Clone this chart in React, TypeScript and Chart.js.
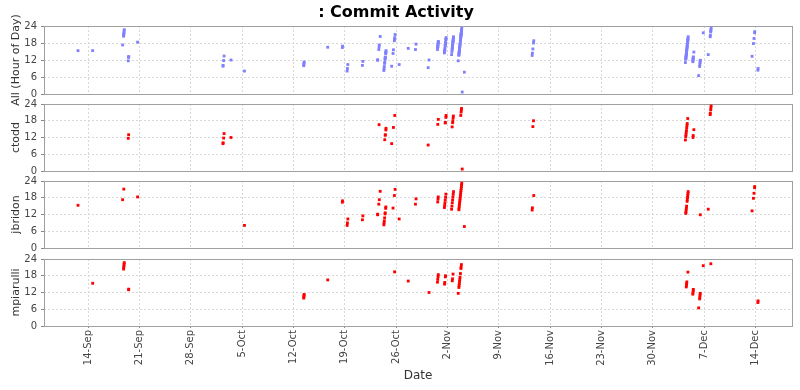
import React, { useEffect, useRef } from "react";
import { Chart, registerables } from "chart.js";
Chart.register(...registerables);

// x axis: days since 14-Sep; each commit is [day, hour of day]
const tickDays = [0, 7, 14, 21, 28, 35, 42, 49, 56, 63, 70, 77, 84, 91];
const tickLabels = ["14-Sep", "21-Sep", "28-Sep", "5-Oct", "12-Oct", "19-Oct", "26-Oct", "2-Nov", "9-Nov", "16-Nov", "23-Nov", "30-Nov", "7-Dec", "14-Dec"];
const hourTicks = [0, 6, 12, 18, 24];
const panelNames = ["All (Hour of Day)", "ctodd", "jbridon", "mpiarulli"];

const ctodd: [number, number][] = [
  [5, 13.0], [5, 11.7],
  [18, 13.4], [18, 11.8], [18, 10.1], [18, 9.8],
  [19, 12.0],
  [39, 16.6],
  [40, 15.3], [40, 14.7], [40, 13.0], [40, 12.8], [40, 11.2],
  [41, 9.8], [41, 15.6], [41, 19.9],
  [46, 9.3],
  [47, 18.5], [47, 16.7],
  [48, 19.9], [48, 19.2], [48, 17.4], [48, 17.2],
  [49, 19.7], [49, 19.0], [49, 18.0], [49, 17.3], [49, 15.8],
  [50, 22.4], [50, 21.9], [50, 21.1], [50, 19.9],
  [51, 0.7],
  [60, 18.0], [60, 15.9],
  [81, 11.1], [81, 12.3], [81, 13.0], [81, 13.8], [81, 14.5], [81, 15.5], [81, 16.3], [81, 17.0], [81, 18.8],
  [82, 14.8], [82, 12.7], [82, 12.0],
  [84, 23.3], [84, 22.6], [84, 21.9], [84, 20.7], [84, 20.2],
];

const jbridon: [number, number][] = [
  [-2, 15.3],
  [4, 17.3], [4, 21.1],
  [6, 18.3],
  [21, 8.1],
  [34, 16.4], [34, 16.9],
  [35, 10.4], [35, 9.0], [35, 8.1],
  [37, 11.5], [37, 10.1],
  [39, 12.1], [39, 11.9], [39, 15.7], [39, 17.3], [39, 20.3],
  [40, 10.8], [40, 9.7], [40, 9.0], [40, 8.3], [40, 14.7], [40, 14.2], [40, 12.6], [40, 12.2],
  [41, 14.3], [41, 18.8], [41, 21.0],
  [42, 10.4],
  [44, 17.6], [44, 15.7],
  [47, 18.3], [47, 17.5], [47, 16.5],
  [48, 19.3], [48, 18.2], [48, 17.2], [48, 16.2], [48, 15.3], [48, 14.5],
  [49, 20.2], [49, 19.2], [49, 18.2], [49, 17.2], [49, 16.2], [49, 15.0], [49, 13.9],
  [50, 23.2], [50, 22.6], [50, 22.0], [50, 21.3], [50, 20.6], [50, 19.9], [50, 19.2], [50, 18.5], [50, 17.8],
  [50, 17.1], [50, 16.4], [50, 15.7], [50, 15.0], [50, 14.3], [50, 13.7],
  [51, 7.7],
  [60, 18.8], [60, 14.4], [60, 13.6],
  [81, 20.2], [81, 19.5], [81, 18.8], [81, 18.1], [81, 17.4], [81, 16.7], [81, 15.0], [81, 14.3], [81, 13.6], [81, 12.9], [81, 12.4],
  [83, 11.9],
  [84, 13.9],
  [90, 13.3], [90, 17.8], [90, 19.6], [90, 21.6], [90, 22.0],
];

const mpiarulli: [number, number][] = [
  [0, 15.3],
  [4, 22.7], [4, 22.1], [4, 21.5], [4, 20.9], [4, 20.4],
  [5, 13.2], [5, 13.0],
  [29, 11.3], [29, 10.9], [29, 10.4], [29, 10.0],
  [32, 16.5],
  [41, 19.4],
  [43, 16.1],
  [46, 12.0],
  [47, 18.4], [47, 17.7], [47, 16.7], [47, 15.7],
  [48, 18.0], [48, 17.6], [48, 15.6], [48, 15.0],
  [49, 18.6], [49, 16.9], [49, 16.2],
  [50, 11.7], [50, 13.8], [50, 14.5], [50, 15.2], [50, 16.0], [50, 16.7], [50, 17.5], [50, 18.8], [50, 22.0], [50, 21.1], [50, 20.6],
  [81, 19.3], [81, 15.8], [81, 15.2], [81, 14.6], [81, 14.0],
  [82, 13.1], [82, 12.6], [82, 11.9], [82, 11.4],
  [83, 11.7], [83, 11.1], [83, 10.4], [83, 9.7], [83, 6.5], [83, 21.6],
  [84, 22.3],
  [91, 9.0], [91, 8.4],
];

const allCommits: [number, number][] = [...ctodd, ...jbridon, ...mpiarulli];
const panelData = [allCommits, ctodd, jbridon, mpiarulli];
const panelColors = ["#8080ff", "#ff0000", "#ff0000", "#ff0000"];

const W = 800;
const H = 390;
const PLOT_LEFT = 44;
const PLOT_RIGHT = 792;
const panelTops = [26, 104, 181, 259];
const panelBottoms = [94, 171, 248, 326];
const FONT = "'DejaVu Sans', sans-serif";

const outline = {
  id: "outline",
  beforeDatasetsDraw(chart: any) {
    const { ctx, chartArea: a } = chart;
    ctx.save();
    ctx.strokeStyle = "#a0a0a0";
    ctx.lineWidth = 1;
    ctx.strokeRect(Math.round(a.left) + 0.5, Math.round(a.top) + 0.5, Math.round(a.right - a.left), Math.round(a.bottom - a.top));
    ctx.restore();
  },
};

function makeConfig(i: number): any {
  const first = i === 0;
  const last = i === 3;
  return {
    type: "scatter",
    data: {
      datasets: [
        {
          data: panelData[i].map(([d, h]) => ({ x: d + h / 24, y: h })),
          pointStyle: "rect",
          pointRadius: 2,
          borderWidth: 0,
          backgroundColor: panelColors[i],
        },
      ],
    },
    options: {
      responsive: false,
      animation: false,
      events: [],
      layout: {
        padding: {
          left: 0,
          right: W - PLOT_RIGHT,
          top: first ? 0 : panelTops[i],
          bottom: last ? 0 : H - panelBottoms[i],
        },
      },
      plugins: {
        legend: { display: false },
        tooltip: { enabled: false },
        title: first
          ? {
              display: true,
              text: ": Commit Activity",
              color: "#000",
              font: { family: FONT, size: 16, weight: "bold", lineHeight: 1.2 },
              padding: { top: 3, bottom: panelTops[0] - 3 - 19.2 },
            }
          : { display: false },
      },
      scales: {
        x: {
          type: "linear",
          min: -6,
          max: 96,
          afterBuildTicks: (s: any) => {
            s.ticks = tickDays.map((v) => ({ value: v }));
          },
          afterFit: (s: any) => {
            s.height = last ? H - panelBottoms[i] : 0;
          },
          ticks: {
            display: last,
            autoSkip: false,
            minRotation: 90,
            maxRotation: 90,
            padding: 2,
            color: "#444",
            font: { family: FONT, size: 10 },
            callback: (v: number) => {
              const k = tickDays.indexOf(v);
              return k >= 0 ? tickLabels[k] : "";
            },
          },
          grid: { color: "#d8d8d8", drawTicks: last, tickLength: 2, tickColor: "#888" },
          border: { display: false, dash: [2, 2] },
          title: last
            ? { display: true, text: "Date", color: "#333", font: { family: FONT, size: 12 }, padding: { top: 2, bottom: 7 } }
            : { display: false },
        },
        y: {
          type: "linear",
          min: 0,
          max: 24,
          afterBuildTicks: (s: any) => {
            s.ticks = hourTicks.map((v) => ({ value: v }));
          },
          afterFit: (s: any) => {
            s.width = PLOT_LEFT;
          },
          ticks: { color: "#444", padding: 4, font: { family: FONT, size: 10 } },
          grid: { color: "#d8d8d8", drawTicks: true, tickLength: 3, tickColor: "#888" },
          border: { display: false, dash: [2, 2] },
          title: {
            display: true,
            text: panelNames[i],
            color: "#333",
            font: { family: FONT, size: 11 },
            padding: { top: 10, bottom: 0 },
          },
        },
      },
    },
    plugins: [outline],
  };
}

function Panel({ index }: { index: number }) {
  const ref = useRef<HTMLCanvasElement | null>(null);
  useEffect(() => {
    if (!ref.current) return;
    const chart = new Chart(ref.current, makeConfig(index));
    return () => chart.destroy();
  }, [index]);
  return (
    <canvas
      ref={ref}
      width={W}
      height={H}
      style={{ position: "absolute", left: 0, top: 0, width: W, height: H }}
    />
  );
}

export default function App() {
  return (
    <div style={{ position: "fixed", left: 0, top: 0, width: W, height: H, background: "#fff" }}>
      {[0, 1, 2, 3].map((i) => (
        <Panel key={i} index={i} />
      ))}
    </div>
  );
}
